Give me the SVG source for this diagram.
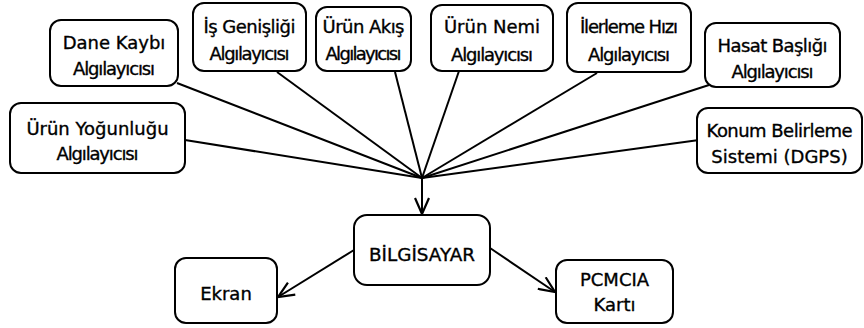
<svg xmlns="http://www.w3.org/2000/svg" width="864" height="328" viewBox="0 0 864 328">
<style>
.box{fill:#fff;stroke:#000;stroke-width:2}
.t{font-family:"DejaVu Sans",Verdana,sans-serif;font-size:18px;fill:#000;stroke:#000;stroke-width:0.35;text-anchor:middle}
.c{stroke:#000;stroke-width:2;fill:none}
.a{marker-end:url(#arr)}
</style>
<defs>
<marker id="arr" viewBox="0 0 18 16" refX="17" refY="8" markerWidth="18" markerHeight="16" markerUnits="userSpaceOnUse" orient="auto">
<path d="M1,1 L17,8 L1,15" fill="none" stroke="#000" stroke-width="2.2"/>
</marker>
</defs>
<rect width="864" height="328" fill="#fff"/>
<g id="connectors">
<line class="c" x1="177" y1="83" x2="422" y2="178"/>
<line class="c" x1="277" y1="72" x2="422" y2="178"/>
<line class="c" x1="395" y1="72" x2="422" y2="178"/>
<line class="c" x1="185" y1="140" x2="422" y2="178"/>
<line class="c" x1="459" y1="71" x2="422" y2="178"/>
<line class="c" x1="597" y1="73" x2="422" y2="178"/>
<line class="c" x1="709" y1="85" x2="422" y2="178"/>
<line class="c" x1="699" y1="140" x2="422" y2="178"/>
<line class="c a" x1="422" y1="178" x2="422" y2="214"/>
<line class="c a" x1="354" y1="250" x2="278" y2="297"/>
<line class="c a" x1="490" y1="248" x2="555" y2="292"/>
</g>
<g id="dane"><rect class="box" x="50" y="20" width="128" height="66" rx="11"/><text class="t" x="114" y="49">Dane Kaybı</text><text class="t" x="114" y="75" textLength="82" lengthAdjust="spacing">Algılayıcısı</text></g>
<g id="is"><rect class="box" x="193" y="3" width="113" height="68" rx="11"/><text class="t" x="249.5" y="33" textLength="92" lengthAdjust="spacing">İş Genişliği</text><text class="t" x="249.5" y="60" textLength="80" lengthAdjust="spacing">Algılayıcısı</text></g>
<g id="akis"><rect class="box" x="316" y="7" width="95" height="64" rx="11"/><text class="t" x="363.5" y="33" textLength="82" lengthAdjust="spacing">Ürün Akış</text><text class="t" x="363.5" y="60" textLength="76" lengthAdjust="spacing">Algılayıcısı</text></g>
<g id="nem"><rect class="box" x="431" y="5" width="122" height="66" rx="11"/><text class="t" x="492" y="33">Ürün Nemi</text><text class="t" x="492" y="61" textLength="82" lengthAdjust="spacing">Algılayıcısı</text></g>
<g id="ilerleme"><rect class="box" x="567" y="3" width="124" height="69" rx="11"/><text class="t" x="629" y="33" textLength="98" lengthAdjust="spacing">İlerleme Hızı</text><text class="t" x="629" y="61" textLength="82" lengthAdjust="spacing">Algılayıcısı</text></g>
<g id="hasat"><rect class="box" x="705" y="23" width="135" height="64" rx="11"/><text class="t" x="772.5" y="52" textLength="110" lengthAdjust="spacing">Hasat Başlığı</text><text class="t" x="772.5" y="78" textLength="82" lengthAdjust="spacing">Algılayıcısı</text></g>
<g id="yogunluk"><rect class="box" x="10" y="103" width="175" height="70" rx="11"/><text class="t" x="97.5" y="135">Ürün Yoğunluğu</text><text class="t" x="97.5" y="160" textLength="82" lengthAdjust="spacing">Algılayıcısı</text></g>
<g id="konum"><rect class="box" x="697" y="108" width="165" height="65" rx="11"/><text class="t" x="779.5" y="137" textLength="146" lengthAdjust="spacing">Konum Belirleme</text><text class="t" x="779.5" y="163">Sistemi (DGPS)</text></g>
<g id="bilgisayar"><rect class="box" x="354" y="215" width="136" height="70" rx="13"/><text class="t" x="422" y="261" textLength="106" lengthAdjust="spacingAndGlyphs">BİLGİSAYAR</text></g>
<g id="ekran"><rect class="box" x="175" y="258" width="102" height="65" rx="11"/><text class="t" x="226" y="300">Ekran</text></g>
<g id="pcmcia"><rect class="box" x="556" y="260" width="117" height="63" rx="11"/><text class="t" x="614.5" y="286">PCMCIA</text><text class="t" x="614.5" y="311">Kartı</text></g>
</svg>
